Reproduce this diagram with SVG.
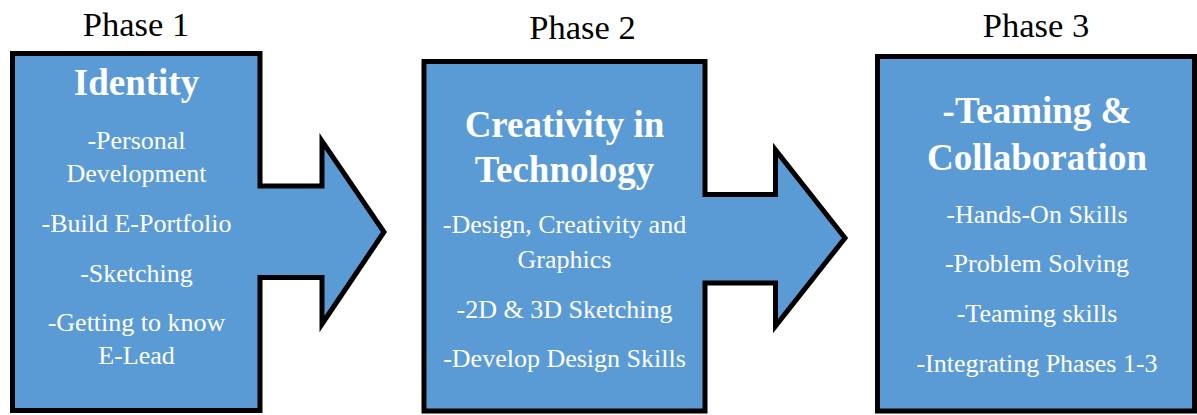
<svg xmlns="http://www.w3.org/2000/svg" width="1197" height="415" viewBox="0 0 1197 415">
<style>
.shape{fill:#5B9BD5;stroke:#000;stroke-width:5;stroke-miterlimit:10}
.phase{font-family:"Liberation Serif","Times New Roman",serif;font-size:34.5px;fill:#000;text-anchor:middle}
.title{font-family:"Liberation Serif","Times New Roman",serif;font-size:37px;font-weight:bold;fill:#fff;text-anchor:middle}
.item{font-family:"Liberation Serif","Times New Roman",serif;font-size:26px;fill:#fff;text-anchor:middle}
</style>
<rect width="1197" height="415" fill="#fff"/>
<g id="phase1">
<text class="phase" x="136" y="36">Phase 1</text>
<path class="shape" d="M12.5,53.5 H260 V186 H322 V141 L384,232 L322,324 V277.5 H260 V410.5 H12.5 Z"/>
<text class="title" x="136.5" y="95">Identity</text>
<text class="item" x="136.5" y="149">-Personal</text>
<text class="item" x="136.5" y="182">Development</text>
<text class="item" x="136.5" y="232">-Build E-Portfolio</text>
<text class="item" x="136.5" y="282">-Sketching</text>
<text class="item" x="136.5" y="331">-Getting to know</text>
<text class="item" x="136.5" y="364">E-Lead</text>
</g>
<g id="phase2">
<text class="phase" x="582.5" y="38.5">Phase 2</text>
<path class="shape" d="M424,61.5 H705 V194.5 H775.5 V150 L845,238 L775.5,326 V283 H705 V411 H424 Z"/>
<text class="title" x="564.5" y="137">Creativity in</text>
<text class="title" x="564.5" y="182">Technology</text>
<text class="item" x="564.5" y="233">-Design, Creativity and</text>
<text class="item" x="564.5" y="268">Graphics</text>
<text class="item" x="564.5" y="318">-2D &amp; 3D Sketching</text>
<text class="item" x="564.5" y="367">-Develop Design Skills</text>
</g>
<g id="phase3">
<text class="phase" x="1036" y="37">Phase 3</text>
<rect class="shape" x="877.5" y="56.5" width="317" height="354.5"/>
<text class="title" x="1037" y="123">-Teaming &amp;</text>
<text class="title" x="1037" y="170">Collaboration</text>
<text class="item" x="1037" y="223">-Hands-On Skills</text>
<text class="item" x="1037" y="272">-Problem Solving</text>
<text class="item" x="1037" y="322">-Teaming skills</text>
<text class="item" x="1037" y="372">-Integrating Phases 1-3</text>
</g>
<g id="connectors"></g>
</svg>
